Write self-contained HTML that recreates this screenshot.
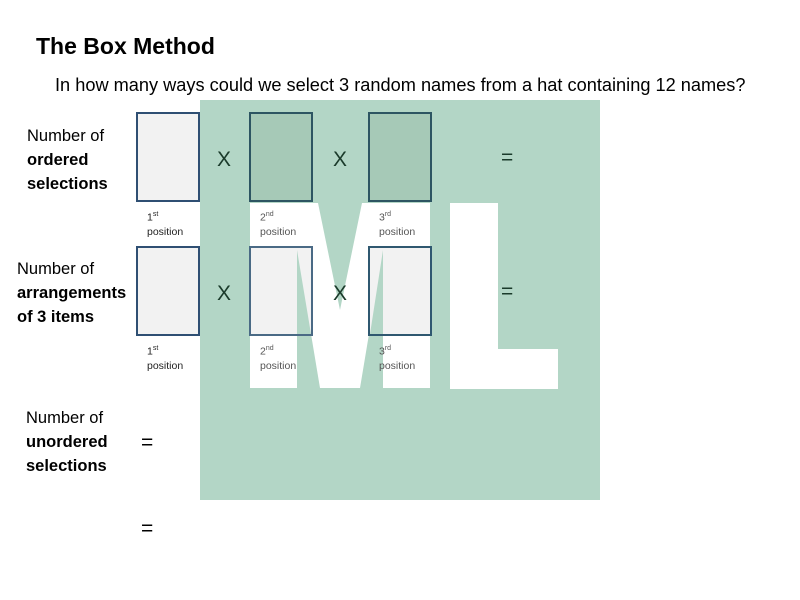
<!DOCTYPE html>
<html><head><meta charset="utf-8"><style>
body{margin:0;width:800px;height:600px;background:#fff;position:relative;overflow:hidden;font-family:"Liberation Sans",sans-serif;color:#000}
.a{position:absolute;white-space:nowrap}
.lab{position:absolute;font-size:10.5px;line-height:14px;color:#222}
.lab sup{font-size:7px}
.x{position:absolute;font-size:21px;color:#1a3a2a}
.lbl{position:absolute;font-size:16.5px;line-height:24px}
</style></head><body>
<div class="a" style="left:36px;top:33px;font-size:23px;font-weight:bold">The Box Method</div>
<div class="a" style="left:55px;top:75px;font-size:18.2px">In how many ways could we select 3 random names from a hat containing 12 names?</div>

<div class="lbl" style="left:27px;top:124px">Number of<br><b>ordered<br>selections</b></div>
<div class="lbl" style="left:17px;top:257px">Number of<br><b>arrangements<br>of 3 items</b></div>
<div class="lbl" style="left:26px;top:406px">Number of<br><b>unordered<br>selections</b></div>

<svg class="a" style="left:0;top:0" width="800" height="600">
<rect x="200" y="100" width="400" height="400" fill="#b3d6c6"/>
<g fill="#fff">
<polygon points="250,203 318,203 340,310 362,203 430,203 430,388 383,388 383,250 360,388 320,388 297,250 297,388 250,388"/>
<polygon points="450,203 498,203 498,349 558,349 558,389 450,389"/>
</g>
<rect x="137" y="113" width="62" height="88" fill="#f2f2f2" stroke="#2f4f73" stroke-width="2"/>
<rect x="137" y="247" width="62" height="88" fill="#f2f2f2" stroke="#2f4f73" stroke-width="2"/>
<rect x="250" y="113" width="62" height="88" fill="#a6c9b7" stroke="#2d5562" stroke-width="2"/>
<rect x="369" y="113" width="62" height="88" fill="#a6c9b7" stroke="#2d5562" stroke-width="2"/>
<rect x="250" y="247" width="62" height="88" fill="#f2f2f2" stroke="#4a6a85" stroke-width="2"/>
<rect x="369" y="247" width="62" height="88" fill="#f2f2f2" stroke="#2f5870" stroke-width="2"/>
<g fill="#b3d6c6">
<polygon points="297,250 311,334 297,334"/>
<polygon points="383,250 383,334 370,334"/>
</g>
</svg>

<div class="lab" style="left:147px;top:208px">1<sup>st</sup><br>position</div>
<div class="lab" style="left:260px;top:208px;color:#555">2<sup>nd</sup><br>position</div>
<div class="lab" style="left:379px;top:208px;color:#555">3<sup>rd</sup><br>position</div>
<div class="lab" style="left:147px;top:342px">1<sup>st</sup><br>position</div>
<div class="lab" style="left:260px;top:342px;color:#555">2<sup>nd</sup><br>position</div>
<div class="lab" style="left:379px;top:342px;color:#555">3<sup>rd</sup><br>position</div>

<div class="x" style="left:217px;top:148px">X</div>
<div class="x" style="left:333px;top:148px">X</div>
<div class="x" style="left:217px;top:282px">X</div>
<div class="x" style="left:333px;top:282px">X</div>
<div class="x" style="left:501px;top:146px">=</div>
<div class="x" style="left:501px;top:280px">=</div>
<div class="x" style="left:141px;top:431px;color:#000">=</div>
<div class="x" style="left:141px;top:517px;color:#000">=</div>
</body></html>
